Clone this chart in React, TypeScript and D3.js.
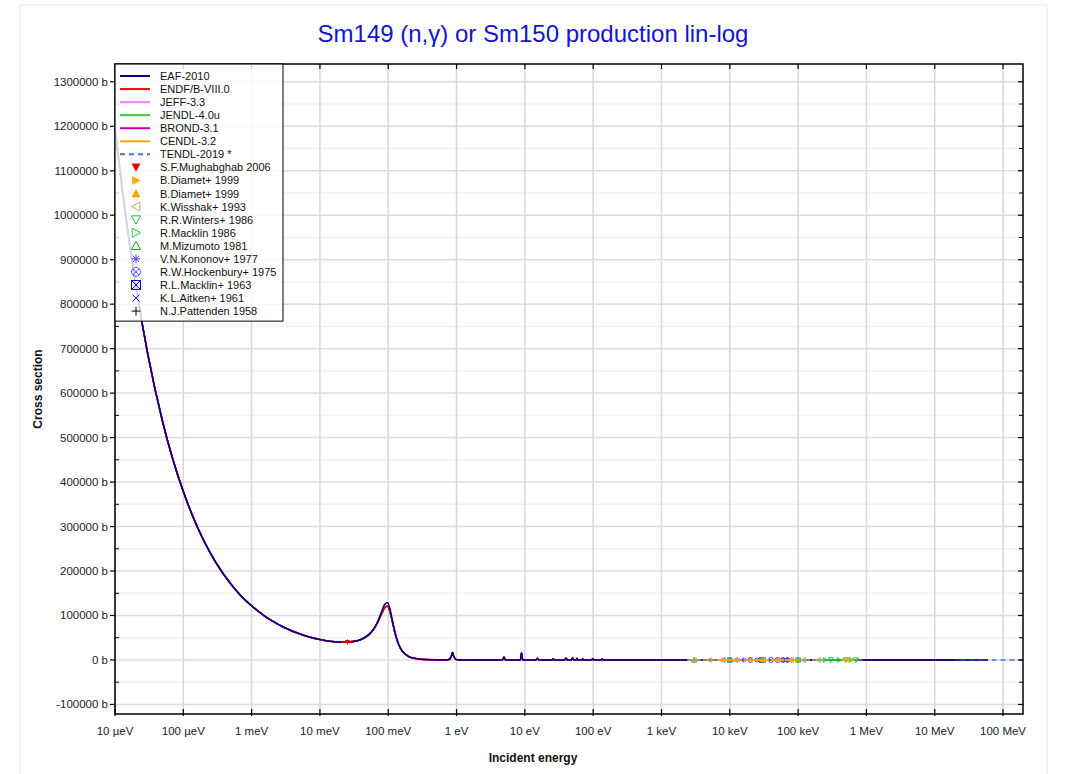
import React from 'react';
import * as d3 from 'd3';

const W = 1067;
const H = 774;
const FRAME = { left: 115, right: 1023, top: 64, bottom: 714 };
const FONT = 'Arial, "Liberation Sans", Helvetica, sans-serif';

const titleText = 'Sm149 (n,\u03b3) or Sm150 production lin-log';
const xAxisTitle = 'Incident energy';
const yAxisTitle = 'Cross section';

const xTickValues = [1e-5, 1e-4, 1e-3, 1e-2, 1e-1, 1, 10, 100, 1e3, 1e4, 1e5, 1e6, 1e7, 1e8];
const xTickLabels = ['10 \u00b5eV', '100 \u00b5eV', '1 meV', '10 meV', '100 meV', '1 eV', '10 eV', '100 eV', '1 keV', '10 keV', '100 keV', '1 MeV', '10 MeV', '100 MeV'];
const yTickValues = [-100000, 0, 100000, 200000, 300000, 400000, 500000, 600000, 700000, 800000, 900000, 1000000, 1100000, 1200000, 1300000];
const yMinorValues = [-50000, 50000, 150000, 250000, 350000, 450000, 550000, 650000, 750000, 850000, 950000, 1050000, 1150000, 1250000];

// Evaluated cross sections (eV, barn)
const energyEV = [
  1e-5, 1.5e-5, 2e-5, 3e-5, 5e-5, 7e-5, 1e-4, 1.5e-4, 2e-4, 3e-4, 5e-4, 7e-4,
  1e-3, 1.5e-3, 2e-3, 3e-3, 5e-3, 7e-3, 0.01, 0.015, 0.02, 0.0253, 0.03, 0.04,
  0.05, 0.06, 0.07, 0.08, 0.09, 0.0973, 0.105, 0.115, 0.125, 0.14, 0.16, 0.2,
  0.25, 0.3, 0.4, 0.5, 0.7, 0.75, 0.8, 0.84, 0.872, 0.9, 0.95, 1.0, 1.05, 1.5,
  3, 4.7, 4.95, 5.2, 8.6, 8.93, 9.3, 14.5, 15.2, 16, 25, 26, 27, 38, 40, 42,
  48, 50, 52, 56, 58, 60, 68, 70, 72, 95, 99, 103, 130, 135, 140, 200, 500,
  1e3, 1e4, 1e5, 1e6, 1e7, 2e7,
];
const eafSigma = [
  1195000, 975700, 845000, 690000, 534400, 451700, 378800, 309300, 268000, 219100, 170100, 144000,
  121800, 100400, 87750, 73000, 58770, 51650, 45890, 41550, 40090, 40200, 41280, 46120,
  54550, 67340, 85900, 108500, 126000, 128500, 117000, 89500, 63500, 37360, 20040, 7660,
  3256, 1717, 676, 342, 130, 300, 2500, 9000, 17000, 10000, 3000, 800, 250, 60,
  30, 40, 6500, 40, 40, 16000, 40, 30, 3500, 30, 20, 2500, 20, 20, 4000, 20,
  20, 5000, 20, 20, 3500, 20, 20, 2500, 20, 15, 3000, 15, 10, 2000, 10, 8, 4,
  3, 2, 0.8, 0.15, 0.005, 0.002,
];
const endfSigma = [
  1195000, 975700, 845000, 690000, 534400, 451700, 378800, 309300, 268000, 219100, 170100, 144000,
  121800, 100400, 87750, 73000, 58770, 51650, 45890, 41550, 40090, 40200, 41280, 46120,
  54550, 67000, 84500, 104000, 118500, 121500, 110500, 85500, 61500, 37000, 20040, 7660,
  3256, 1717, 676, 342, 130, 300, 2400, 8800, 16500, 9800, 3000, 800, 250, 60,
  30, 40, 6300, 40, 40, 15500, 40, 30, 3300, 30, 20, 2400, 20, 20, 3800, 20,
  20, 4800, 20, 20, 3300, 20, 20, 2400, 20, 15, 2900, 15, 10, 1900, 10, 8, 4,
  3, 2, 0.8, 0.15, 0.005, 0.002,
];
const eafTailE = [2e7, 6e7];
const eafTailS = [0.002, 0.001];
const tendlTailE = [2e7, 6e7, 1.96e8];
const tendlTailS = [0.002, 0.001, 0.0005];

const curves = [
  { name: 'JEFF-3.3', color: '#ff80ff', sigma: endfSigma, tailE: [] as number[], tailS: [] as number[], dash: '' },
  { name: 'JENDL-4.0u', color: '#33cc33', sigma: endfSigma, tailE: [], tailS: [], dash: '' },
  { name: 'CENDL-3.2', color: '#ffa500', sigma: endfSigma, tailE: [], tailS: [], dash: '' },
  { name: 'TENDL-2019 *', color: '#4a70e8', sigma: endfSigma, tailE: tendlTailE, tailS: tendlTailS, dash: '5,4' },
  { name: 'BROND-3.1', color: '#cc00aa', sigma: endfSigma, tailE: [], tailS: [], dash: '' },
  { name: 'ENDF/B-VIII.0', color: '#ff0000', sigma: endfSigma, tailE: [], tailS: [], dash: '' },
  { name: 'EAF-2010', color: '#00008b', sigma: eafSigma, tailE: eafTailE, tailS: eafTailS, dash: '' },
];

// Experimental data
const mughabghabE = [0.0253];
const mughabghabS = [40140];
const pattendenE = [0.0253];
const pattendenS = [40500];
const diametRightE = [5.4e5];
const diametRightS = [0.5];
const diametUpE = [8e3, 1.2e4, 2e4, 3e4, 5e4, 8e4];
const diametUpS = [5, 4, 3, 2, 1.5, 1.2];
const wisshakE = [3e3, 5e3, 8e3, 1.2e4, 2e4, 3e4, 5e4, 8e4, 1.2e5, 2e5];
const wisshakS = [9, 7, 5, 4, 3, 2, 1.5, 1.2, 1, 0.8];
const wintersE = [1e4, 3e4, 1e5, 3e5, 5e5, 7e5];
const wintersS = [4.5, 2, 1, 0.6, 0.5, 0.4];
const macklin86E = [2.5e5, 4e5, 6e5];
const macklin86S = [0.7, 0.55, 0.45];
const mizumotoE = [3e3, 1e4, 3e4, 1e5];
const mizumotoS = [9, 4.5, 2, 1];
const kononovE = [8e3, 1e4, 1.3e4, 1.6e4, 2e4, 2.5e4, 3e4, 5e4, 6e4, 7e4, 8e4];
const kononovS = [5, 4.5, 4, 3.5, 3, 2.5, 2, 1.5, 1.4, 1.3, 1.2];
const hockenburyE = [2e4, 3e4, 4e4, 5e4, 6e4, 7e4];
const hockenburyS = [3, 2, 1.8, 1.5, 1.4, 1.3];
const macklin63E = [3e4];
const macklin63S = [1.8];
const aitkenE = [2.5e4, 6.5e4];
const aitkenS = [2.5, 1.4];

type MType = 'triDownF' | 'triRightF' | 'triUpF' | 'triLeft' | 'triDown' | 'triRight' | 'triUp' | 'asterisk' | 'circleX' | 'squareX' | 'cross' | 'plus';

const experiments: { name: string; type: MType; color: string; e: number[]; s: number[] }[] = [
  { name: 'S.F.Mughabghab 2006', type: 'triDownF', color: '#ee0000', e: mughabghabE, s: mughabghabS },
  { name: 'B.Diamet+ 1999', type: 'triRightF', color: '#ffa500', e: diametRightE, s: diametRightS },
  { name: 'B.Diamet+ 1999', type: 'triUpF', color: '#ffa500', e: diametUpE, s: diametUpS },
  { name: 'K.Wisshak+ 1993', type: 'triLeft', color: '#b5b070', e: wisshakE, s: wisshakS },
  { name: 'R.R.Winters+ 1986', type: 'triDown', color: '#22bb44', e: wintersE, s: wintersS },
  { name: 'R.Macklin 1986', type: 'triRight', color: '#22cc44', e: macklin86E, s: macklin86S },
  { name: 'M.Mizumoto 1981', type: 'triUp', color: '#119911', e: mizumotoE, s: mizumotoS },
  { name: 'V.N.Kononov+ 1977', type: 'asterisk', color: '#3b3bff', e: kononovE, s: kononovS },
  { name: 'R.W.Hockenbury+ 1975', type: 'circleX', color: '#5050ff', e: hockenburyE, s: hockenburyS },
  { name: 'R.L.Macklin+ 1963', type: 'squareX', color: '#0000cc', e: macklin63E, s: macklin63S },
  { name: 'K.L.Aitken+ 1961', type: 'cross', color: '#2222cc', e: aitkenE, s: aitkenS },
  { name: 'N.J.Pattenden 1958', type: 'plus', color: '#000000', e: pattendenE, s: pattendenS },
];

const legendLines = [
  { name: 'EAF-2010', color: '#00008b', dash: '' },
  { name: 'ENDF/B-VIII.0', color: '#ff0000', dash: '' },
  { name: 'JEFF-3.3', color: '#ff80ff', dash: '' },
  { name: 'JENDL-4.0u', color: '#33cc33', dash: '' },
  { name: 'BROND-3.1', color: '#cc00aa', dash: '' },
  { name: 'CENDL-3.2', color: '#ffa500', dash: '' },
  { name: 'TENDL-2019 *', color: '#4a70e8', dash: '5,4' },
];

function Marker({ type, x, y, s, color }: { type: MType; x: number; y: number; s: number; color: string }) {
  const sw = 1;
  switch (type) {
    case 'triDownF':
      return <polygon points={`${x - s},${y - s * 0.85} ${x + s},${y - s * 0.85} ${x},${y + s}`} fill={color} />;
    case 'triUpF':
      return <polygon points={`${x - s},${y + s * 0.85} ${x + s},${y + s * 0.85} ${x},${y - s}`} fill={color} />;
    case 'triRightF':
      return <polygon points={`${x - s * 0.85},${y - s} ${x - s * 0.85},${y + s} ${x + s},${y}`} fill={color} />;
    case 'triLeft':
      return <polygon points={`${x + s * 0.85},${y - s} ${x + s * 0.85},${y + s} ${x - s},${y}`} fill="none" stroke={color} strokeWidth={sw} />;
    case 'triDown':
      return <polygon points={`${x - s},${y - s * 0.85} ${x + s},${y - s * 0.85} ${x},${y + s}`} fill="none" stroke={color} strokeWidth={sw} />;
    case 'triUp':
      return <polygon points={`${x - s},${y + s * 0.85} ${x + s},${y + s * 0.85} ${x},${y - s}`} fill="none" stroke={color} strokeWidth={sw} />;
    case 'triRight':
      return <polygon points={`${x - s * 0.85},${y - s} ${x - s * 0.85},${y + s} ${x + s},${y}`} fill="none" stroke={color} strokeWidth={sw} />;
    case 'asterisk': {
      const d = s * 0.7;
      return (
        <g stroke={color} strokeWidth={sw}>
          <line x1={x - s} y1={y} x2={x + s} y2={y} />
          <line x1={x} y1={y - s} x2={x} y2={y + s} />
          <line x1={x - d} y1={y - d} x2={x + d} y2={y + d} />
          <line x1={x - d} y1={y + d} x2={x + d} y2={y - d} />
        </g>
      );
    }
    case 'circleX': {
      const d = s * 0.7;
      return (
        <g stroke={color} strokeWidth={sw} fill="none">
          <circle cx={x} cy={y} r={s} />
          <line x1={x - d} y1={y - d} x2={x + d} y2={y + d} />
          <line x1={x - d} y1={y + d} x2={x + d} y2={y - d} />
        </g>
      );
    }
    case 'squareX':
      return (
        <g stroke={color} strokeWidth={sw} fill="none">
          <rect x={x - s} y={y - s} width={2 * s} height={2 * s} />
          <line x1={x - s} y1={y - s} x2={x + s} y2={y + s} />
          <line x1={x - s} y1={y + s} x2={x + s} y2={y - s} />
        </g>
      );
    case 'cross': {
      const d = s * 0.8;
      return (
        <g stroke={color} strokeWidth={sw}>
          <line x1={x - d} y1={y - d} x2={x + d} y2={y + d} />
          <line x1={x - d} y1={y + d} x2={x + d} y2={y - d} />
        </g>
      );
    }
    case 'plus':
      return (
        <g stroke={color} strokeWidth={sw}>
          <line x1={x - s} y1={y} x2={x + s} y2={y} />
          <line x1={x} y1={y - s} x2={x} y2={y + s} />
        </g>
      );
  }
  return null;
}

export default function App() {
  const x = d3.scaleLog().domain([1e-5, 1.96e8]).range([FRAME.left, FRAME.right]);
  const y = d3.scaleLinear().domain([-121500, 1340000]).range([FRAME.bottom, FRAME.top]);

  const line = d3
    .line<[number, number]>()
    .x((d) => x(d[0]))
    .y((d) => y(d[1]))
    .curve(d3.curveMonotoneX);

  const legendX = FRAME.left;
  const legendY = FRAME.top;
  const rowH = 13.06;
  const legendRows = legendLines.length + experiments.length;

  return (
    <svg width={W} height={H} style={{ position: 'absolute', left: 0, top: 0, background: '#fff' }} fontFamily={FONT}>
      <defs>
        <clipPath id="plotClip">
          <rect x={FRAME.left} y={FRAME.top} width={FRAME.right - FRAME.left} height={FRAME.bottom - FRAME.top} />
        </clipPath>
      </defs>
      <rect x={20} y={5} width={1027} height={800} fill="#fff" stroke="#ececec" strokeWidth={1} />

      <text x={533} y={42} textAnchor="middle" fontSize={24} fill="#1414cc">
        {titleText}
      </text>

      {/* grid */}
      <g>
        {yMinorValues.map((v) => (
          <line key={'ym' + v} x1={FRAME.left} x2={FRAME.right} y1={y(v)} y2={y(v)} stroke="#f2f2f2" strokeWidth={1.5} />
        ))}
        {yTickValues.map((v) => (
          <line key={'yg' + v} x1={FRAME.left} x2={FRAME.right} y1={y(v)} y2={y(v)} stroke="#dcdcdc" strokeWidth={1.5} />
        ))}
        {xTickValues.map((v) => (
          <line key={'xg' + v} x1={x(v)} x2={x(v)} y1={FRAME.top} y2={FRAME.bottom} stroke="#d8d8d8" strokeWidth={1.5} />
        ))}
      </g>

      {/* curves */}
      <g clipPath="url(#plotClip)" fill="none">
        {curves.map((c) => {
          const pts: [number, number][] = energyEV.map((e, i) => [e, c.sigma[i]] as [number, number]);
          const tail: [number, number][] = c.tailE.map((e, i) => [e, c.tailS[i]] as [number, number]);
          const all = tail.length ? pts.concat(tail.slice(1)) : pts;
          return (
            <path
              key={c.name}
              d={line(all) || ''}
              stroke={c.color}
              strokeWidth={c.name === 'EAF-2010' ? 1.6 : 1.5}
              strokeDasharray={c.dash || undefined}
            />
          );
        })}
      </g>

      {/* experimental data */}
      <g clipPath="url(#plotClip)">
        {[...experiments].reverse().map((ex, k) =>
          ex.e.map((e, i) => (
            <g key={'ex' + k + '_' + i}>
              <line x1={x(e * 0.8)} x2={x(e * 1.25)} y1={y(ex.s[i])} y2={y(ex.s[i])} stroke={ex.color} strokeWidth={1.5} />
              <Marker type={ex.type} x={x(e)} y={y(ex.s[i])} s={2.5} color={ex.color} />
            </g>
          ))
        )}
      </g>

      {/* frame */}
      <rect x={FRAME.left} y={FRAME.top} width={FRAME.right - FRAME.left} height={FRAME.bottom - FRAME.top} fill="none" stroke="#000" strokeWidth={1.5} />

      {/* y ticks */}
      <g fontSize={11.5} fill="#222">
        {yTickValues.map((v) => (
          <g key={'yt' + v}>
            <line x1={FRAME.left - 5} x2={FRAME.left} y1={y(v)} y2={y(v)} stroke="#000" strokeWidth={1.2} />
            <line x1={FRAME.right - 5} x2={FRAME.right} y1={y(v)} y2={y(v)} stroke="#000" strokeWidth={1.2} />
            <text x={FRAME.left - 7} y={y(v) + 4} textAnchor="end">
              {`${v} b`}
            </text>
          </g>
        ))}
        {yMinorValues.map((v) => (
          <g key={'ymt' + v}>
            <line x1={FRAME.left} x2={FRAME.left + 4} y1={y(v)} y2={y(v)} stroke="#000" strokeWidth={1} />
            <line x1={FRAME.right - 4} x2={FRAME.right} y1={y(v)} y2={y(v)} stroke="#000" strokeWidth={1} />
          </g>
        ))}
      </g>

      {/* x ticks */}
      <g fontSize={11.5} fill="#222">
        {xTickValues.map((v, i) => (
          <g key={'xt' + v}>
            <line x1={x(v)} x2={x(v)} y1={FRAME.bottom - 5} y2={FRAME.bottom + 2} stroke="#000" strokeWidth={1.2} />
            <line x1={x(v)} x2={x(v)} y1={FRAME.top} y2={FRAME.top + 5} stroke="#000" strokeWidth={1.2} />
            <text x={x(v)} y={FRAME.bottom + 21} textAnchor="middle">
              {xTickLabels[i]}
            </text>
          </g>
        ))}
      </g>

      {/* axis titles */}
      <text x={533} y={762} textAnchor="middle" fontSize={12} fontWeight="bold" fill="#111">
        {xAxisTitle}
      </text>
      <text transform={`translate(42,${389}) rotate(-90)`} textAnchor="middle" fontSize={12} fontWeight="bold" fill="#111">
        {yAxisTitle}
      </text>

      {/* legend */}
      <g>
        <rect
          x={legendX}
          y={legendY}
          width={168}
          height={rowH * legendRows + 9}
          fill="#fff"
          fillOpacity={0.82}
          stroke="#000"
          strokeWidth={1}
        />
        {legendLines.map((l, i) => {
          const cy = legendY + 12 + i * rowH;
          return (
            <g key={'ll' + i}>
              <line x1={legendX + 5} x2={legendX + 35} y1={cy} y2={cy} stroke={l.color} strokeWidth={2} strokeDasharray={l.dash || undefined} />
              <text x={legendX + 45} y={cy + 4} fontSize={11} fill="#111">
                {l.name}
              </text>
            </g>
          );
        })}
        {experiments.map((ex, j) => {
          const cy = legendY + 12 + (j + legendLines.length) * rowH;
          return (
            <g key={'le' + j}>
              <Marker type={ex.type} x={legendX + 21} y={cy} s={4.5} color={ex.color} />
              <text x={legendX + 45} y={cy + 4} fontSize={11} fill="#111">
                {ex.name}
              </text>
            </g>
          );
        })}
      </g>
    </svg>
  );
}
